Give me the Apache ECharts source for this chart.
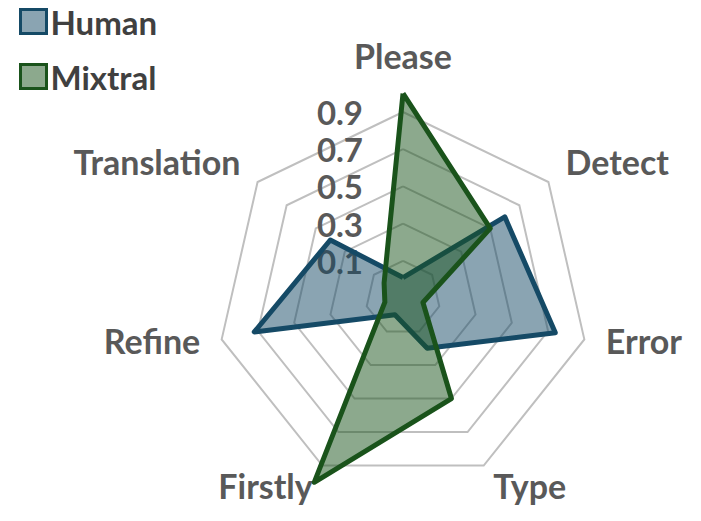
<!DOCTYPE html>
<html>
<head>
<meta charset="utf-8">
<script src="https://cdn.jsdelivr.net/npm/echarts@6/dist/echarts.min.js"></script>
<style>
  html, body { margin: 0; padding: 0; background: #fff; }
  #chart { width: 701px; height: 521px; }
</style>
</head>
<body>
<div id="chart"></div>
<script>
var categories = ['Please', 'Detect', 'Error', 'Type', 'Firstly', 'Refine', 'Translation'];
var humanValues = [0.01, 0.60, 0.74, 0.20, 0.0, 0.72, 0.40];
var mixtralValues = [1.0, 0.50, 0.01, 0.50, 1.0, 0.0, 0.03];
var tickLabels = ['0.1', '0.3', '0.5', '0.7', '0.9'];
var axisMin = -0.1;
var axisMax = 0.9;

var font = 'Lato, "Open Sans", sans-serif';
var humanLine = '#154a66';
var mixtralLine = '#1a531b';

// echarts radar runs counter-clockwise, the original goes clockwise
function cw(arr) {
  return [arr[0]].concat(arr.slice(1).reverse());
}

// small vertical nudges for the axis names
var nameLift = { Please: 18, Detect: 14, Translation: 14, Error: 8, Refine: 8 };
var nameRich = {};
Object.keys(nameLift).forEach(function(k) {
  nameRich[k] = { color: '#595959', fontFamily: font, fontSize: 34, fontWeight: 'bold', padding: [0, 0, nameLift[k], 0] };
});

var chart = echarts.init(document.getElementById('chart'), null, { renderer: 'svg' });

chart.setOption({
  animation: false,
  legend: {
    orient: 'vertical',
    left: 14,
    top: 0,
    itemWidth: 26,
    itemHeight: 24,
    itemGap: 22,
    icon: 'rect',
    textStyle: { fontFamily: font, fontSize: 33, fontWeight: 'bold', color: '#404040', padding: [0, 0, 0, -1] },
    data: [
      { name: 'Human', itemStyle: { color: '#8aa4b2', borderColor: humanLine, borderWidth: 3 } },
      { name: 'Mixtral', itemStyle: { color: '#8ca98d', borderColor: mixtralLine, borderWidth: 3 } }
    ]
  },
  radar: {
    center: [403, 298],
    radius: 186,
    startAngle: 90,
    shape: 'polygon',
    splitNumber: 5,
    indicator: cw(categories).map(function(c) { return { name: c, min: axisMin, max: axisMax }; }),
    axisName: {
      color: '#595959', fontFamily: font, fontSize: 34, fontWeight: 'bold',
      formatter: function(name) {
        return nameLift[name] ? '{' + name + '|' + name + '}' : name;
      },
      rich: nameRich
    },
    nameGap: 22,
    axisLine: { show: false },
    axisTick: { show: false },
    splitArea: { show: false },
    splitLine: { lineStyle: { color: '#bfbfbf', width: 2 } }
  },
  // polar overlay only to draw the tick labels along the Please axis
  polar: { center: [403, 298], radius: 186 },
  angleAxis: { show: false, startAngle: 90, min: 0, max: 360 },
  radiusAxis: {
    type: 'value',
    min: 0,
    max: 1,
    interval: 0.2,
    axisLine: { show: false },
    axisTick: { show: false },
    splitLine: { show: false },
    axisLabel: {
      margin: 40,
      fontFamily: font,
      fontSize: 33,
      lineHeight: 28,
      fontWeight: 'bold',
      color: '#595959',
      formatter: function(v) {
        var i = Math.round(v / 0.2) - 1;
        return i >= 0 ? tickLabels[i] : '';
      }
    }
  },
  series: [{
    type: 'radar',
    symbol: 'none',
    data: [
      {
        name: 'Human',
        value: cw(humanValues),
        lineStyle: { color: humanLine, width: 5 },
        itemStyle: { color: humanLine },
        areaStyle: { color: humanLine, opacity: 0.5 }
      },
      {
        name: 'Mixtral',
        value: cw(mixtralValues),
        lineStyle: { color: mixtralLine, width: 5 },
        itemStyle: { color: mixtralLine },
        areaStyle: { color: mixtralLine, opacity: 0.5 }
      }
    ]
  }]
});
window.addEventListener('resize', function() { chart.resize(); });
</script>
</body>
</html>
